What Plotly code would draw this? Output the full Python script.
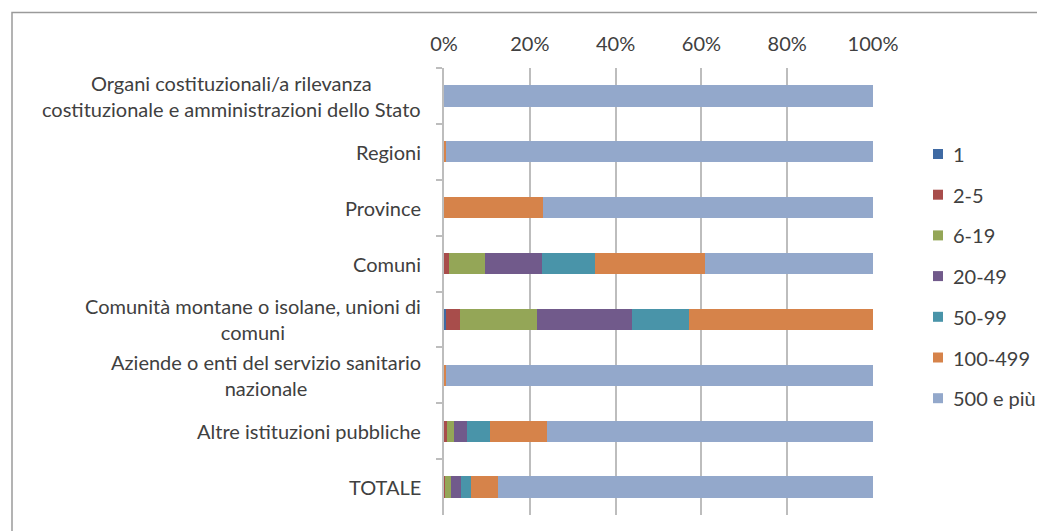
import plotly.graph_objects as go

categories = [
    "Organi costituzionali/a rilevanza<br>costituzionale e amministrazioni dello Stato",
    "Regioni",
    "Province",
    "Comuni",
    "Comunità montane o isolane, unioni di<br>comuni",
    "Aziende o enti del servizio sanitario<br>nazionale",
    "Altre istituzioni pubbliche",
    "TOTALE",
]
series_names = ["1", "2-5", "6-19", "20-49", "50-99", "100-499", "500 e più"]
s_1 = [0, 0, 0, 0.1, 0.4, 0, 0.1, 0.05]
s_2_5 = [0, 0, 0, 1.1, 3.3, 0, 0.7, 0.2]
s_6_19 = [0, 0, 0, 8.4, 18.0, 0, 1.5, 1.3]
s_20_49 = [0, 0, 0, 13.2, 22.2, 0, 3.0, 2.5]
s_50_99 = [0, 0, 0, 12.3, 13.2, 0, 5.4, 2.3]
s_100_499 = [0, 0.5, 23.0, 25.7, 42.9, 0.5, 13.2, 6.2]
s_500 = [100, 99.5, 77.0, 39.2, 0, 99.5, 76.1, 87.45]
x_ticks = [0, 20, 40, 60, 80, 100]

series_values = [s_1, s_2_5, s_6_19, s_20_49, s_50_99, s_100_499, s_500]
colors = ["#3F6AA3", "#A84D4B", "#94A657", "#715A8B", "#4994A9", "#D6834A", "#93A8CB"]

font_family = "Lato, Carlito, Calibri, sans-serif"
FS = 20
TXT = "#404040"

fig = go.Figure()
for name, vals, col in zip(series_names, series_values, colors):
    fig.add_trace(go.Bar(
        y=categories, x=vals, name=name, orientation="h",
        marker=dict(color=col, line=dict(width=0)),
        showlegend=False,
    ))

# page has an 8px body margin: figure coords = page coords - 8
OFF = 8
W, H = 1045 - OFF, 531 - OFF
ml, mt = 444 - OFF, 68 - OFF
pr, pb = 873 - OFF, 515 - OFF
mr, mb = W - pr, H - pb
pw, ph = pr - ml, pb - mt

def px_x(p):
    return (p - OFF - ml) / pw

def px_y(p):
    return (pb - (p - OFF)) / ph

shapes = [dict(
    type="rect", xref="paper", yref="paper",
    x0=px_x(12), x1=px_x(1070), y0=px_y(560), y1=px_y(12.5),
    line=dict(color="#9A9A9A", width=1.5), fillcolor="rgba(0,0,0,0)",
    layer="below",
)]

# legend (drawn manually so it fits the right margin like the original)
leg_x_sq, leg_x_txt, leg_y0, leg_dy, sq = 933, 951, 154, 40.7, 10
annotations = []
for i, (name, col) in enumerate(zip(series_names, colors)):
    yc = leg_y0 + i * leg_dy
    shapes.append(dict(
        type="rect", xref="paper", yref="paper",
        x0=px_x(leg_x_sq), x1=px_x(leg_x_sq + sq),
        y0=px_y(yc + sq / 2), y1=px_y(yc - sq / 2),
        line=dict(width=0), fillcolor=col,
    ))
    annotations.append(dict(
        x=px_x(leg_x_txt), y=px_y(yc), xref="paper", yref="paper",
        text=name, xanchor="left", yanchor="middle", showarrow=False,
        font=dict(size=FS, color=TXT, family=font_family),
    ))

for cat in categories:
    annotations.append(dict(
        x=0, xref="paper", y=cat, yref="y", text=cat,
        xanchor="right", yanchor="middle", align="center", xshift=-21,
        showarrow=False, font=dict(size=FS, color=TXT, family=font_family),
    ))

fig.update_layout(
    width=W, height=H,
    margin=dict(l=ml, r=mr, t=mt, b=mb, pad=0, autoexpand=False),
    barmode="stack",
    bargap=0.62,
    plot_bgcolor="white",
    paper_bgcolor="white",
    font=dict(family=font_family, size=FS, color=TXT),
    showlegend=False,
    xaxis=dict(
        side="top", range=[0, 100], tickvals=x_ticks,
        ticktext=[f"{v}%" for v in x_ticks],
        showgrid=True, gridcolor="#BDBDBD", gridwidth=1.5,
        zeroline=False, showline=False, ticks="",
        ticklabelstandoff=12,
        tickfont=dict(size=FS, color=TXT),
    ),
    yaxis=dict(
        autorange="reversed", showticklabels=False,
        showline=True, linecolor="#BDBDBD", linewidth=1.5,
        ticks="outside", ticklen=6, tickcolor="#BDBDBD", tickwidth=1.5,
        tickson="boundaries", showgrid=False,
    ),
    shapes=shapes,
    annotations=annotations,
)

fig.write_html("out.html")
